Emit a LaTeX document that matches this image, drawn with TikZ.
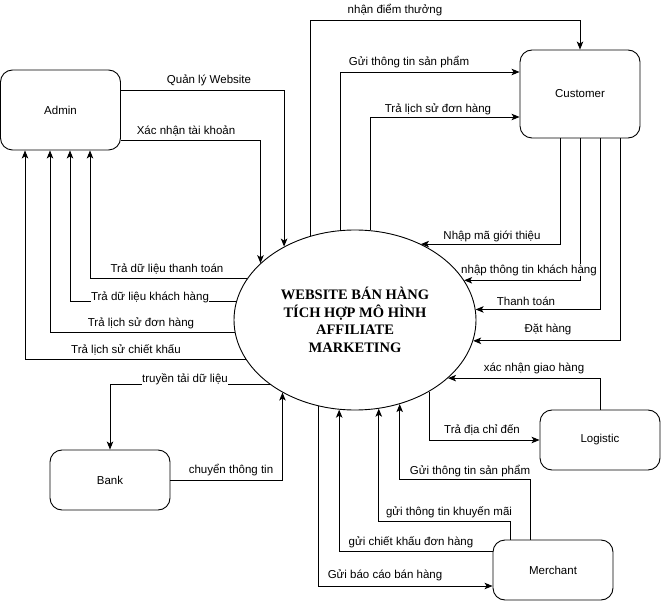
\documentclass[tikz,border=0pt]{standalone}
\usepackage{fontspec}
\setmainfont{Liberation Sans}
\newfontfamily\serifb{Liberation Serif}
\usetikzlibrary{arrows.meta,shapes.geometric,calc}
\begin{document}
\begin{tikzpicture}[x=1pt,y=-1pt,
  box/.style={draw,rounded corners=12pt,minimum width=120pt,inner sep=0pt,line width=0.9pt,font=\fontsize{11.5}{13}\selectfont},
  flow/.style={draw,line width=0.9pt,-{Stealth[length=8pt,width=6.5pt,inset=2pt]}},
  lbl/.style={fill=white,inner sep=0.5pt,font=\fontsize{11.5}{13}\selectfont}]
\useasboundingbox (0,0) rectangle (661,601);
\node[box,minimum height=80pt] (admin) at (60.5,110) {Admin};
\node[box,minimum height=88pt] (customer) at (580,94) {Customer};
\node[box,minimum height=60pt] (bank) at (110,480) {Bank};
\node[box,minimum height=60pt] (logistic) at (600,440) {Logistic};
\node[box,minimum height=60pt] (merchant) at (553,570) {Merchant};
\node[draw,ellipse,minimum width=242pt,minimum height=180pt,inner sep=0pt,line width=0.9pt,align=center,
  font=\serifb\bfseries\fontsize{14.5}{17.7}\selectfont] (web) at (355,320)
  {WEBSITE BÁN HÀNG\\TÍCH HỢP MÔ HÌNH\\AFFILIATE\\MARKETING};
% Admin
\draw[flow] (admin.east |- 0,90) -| (web.134.25);
\node[lbl] (t1) at (209,80) {Quản lý Website};
\draw[flow] (admin.east |- 0,140) -| (web.149.62);
\node[lbl] (t2) at (186,131) {Xác nhận tài khoản};
\draw[flow] (web.159.75) -| (admin.south -| 90,0);
\node[lbl] (t3) at (167,269) {Trả dữ liệu thanh toán};
\draw[flow] (web.171.86) -| (admin.south -| 70,0);
\node[lbl] (t4) at (150,297) {Trả dữ liệu khách hàng};
\draw[flow] (web.186.2) -| (admin.south -| 50,0);
\node[lbl] (t5) at (141,323) {Trả lịch sử đơn hàng};
\draw[flow] (web.200.25) -| (admin.south -| 25,0);
\node[lbl] (t6) at (126,350) {Trả lịch sử chiết khấu};
% Customer
\draw[flow] (web.118.32) |- (customer.north |- 0,20) -- (customer.north);
\node[lbl] (t7) at (395,10) {nhận điểm thưởng};
\draw[flow] (web.99.54) |- (customer.west |- 0,72);
\node[lbl] (t8) at (409,62) {Gửi thông tin sản phẩm};
\draw[flow] (web.80.46) |- (customer.west |- 0,117);
\node[lbl] (t9) at (438,109) {Trả lịch sử đơn hàng};
\draw[flow] (customer.south -| 560,0) |- (web.49.55);
\node[lbl] (t10) at (492,236) {Nhập mã giới thiệu};
\draw[flow] (customer.south -| 580,0) |- (web.20.25);
\node[lbl] (t11) at (529,270) {nhập thông tin khách hàng};
\draw[flow] (customer.south -| 600,0) |- (web.5.23);
\node[lbl] (t12) at (526,301) {Thanh toán};
\draw[flow] (customer.south -| 620,0) |- (web.350.38);
\node[lbl] (t13) at (548,329) {Đặt hàng};
% Logistic
\draw[flow] (logistic.north) |- (web.328.66);
\node[lbl] (t14) at (534,368) {xác nhận giao hàng};
\draw[flow] (web.316.73) |- (logistic.west);
\node[lbl] (t15) at (482,430) {Trả địa chỉ đến};
% Merchant
\draw[flow] (merchant.north -| 530,0) |- (web.298.32 |- 0,479) -- (web.298.32);
\node[lbl] (t16) at (470,471) {Gửi thông tin sản phẩm};
\draw[flow] (merchant.north -| 510,0) |- (web.285.84 |- 0,521) -- (web.285.84);
\node[lbl] (t17) at (449,512) {gửi thông tin khuyến mãi};
\draw[flow] (merchant.west |- 0,551) -| (web.260.46);
\node[lbl] (t18) at (411,542) {gửi chiết khấu đơn hàng};
\draw[flow] (web.247.88) |- (merchant.west |- 0,586);
\node[lbl] (t19) at (385,575) {Gửi báo cáo bán hàng};
% Bank
\draw[flow] (web.217.83) -| (bank.north);
\node[lbl] (t20) at (185,379) {truyền tải dữ liệu};
\draw[flow] (bank.east) -| (web.225.12);
\node[lbl] (t21) at (231,470) {chuyển thông tin};
\end{tikzpicture}
\end{document}
